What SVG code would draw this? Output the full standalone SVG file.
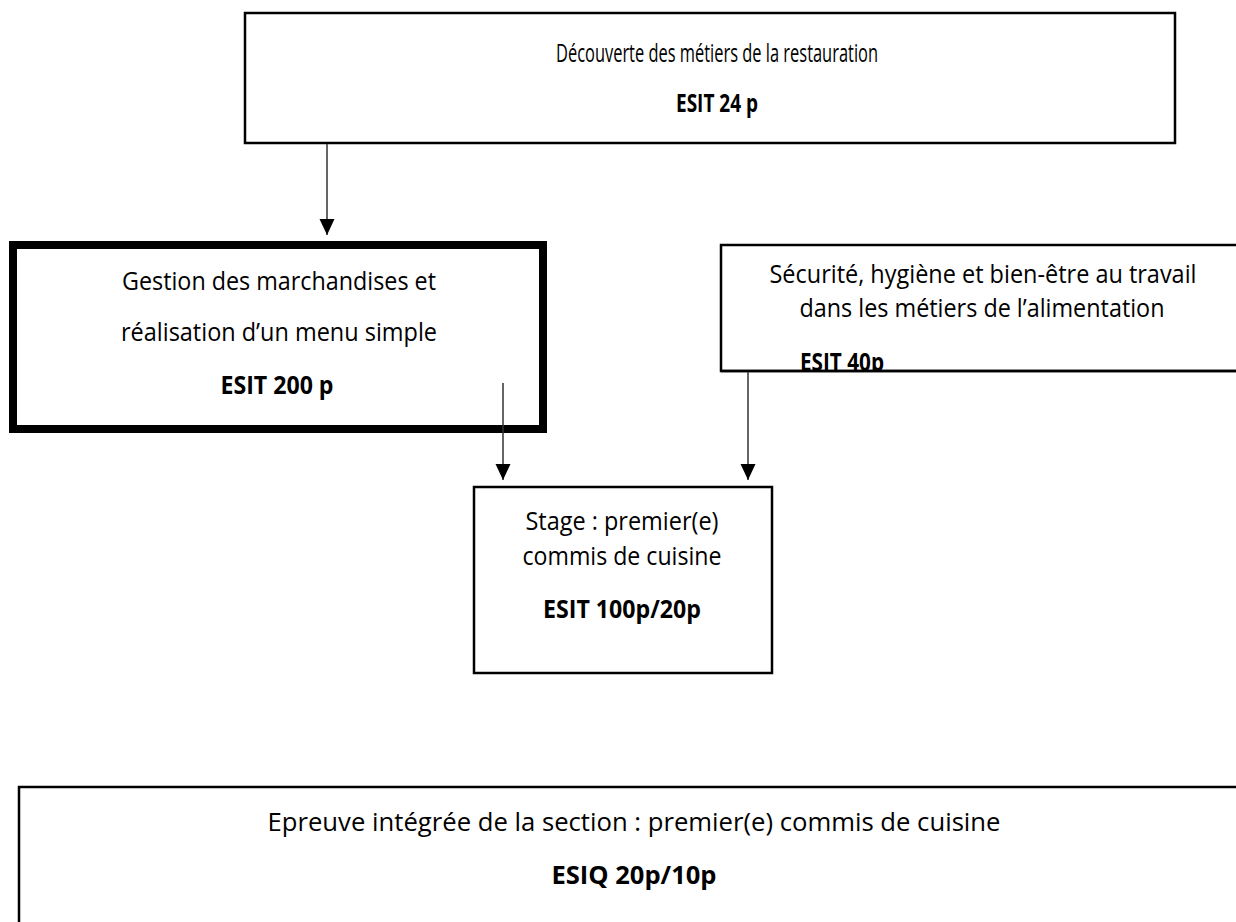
<svg xmlns="http://www.w3.org/2000/svg" width="1236" height="922" viewBox="0 0 1236 922">
<style>
.box{fill:#fff;stroke:#000;stroke-width:2.5}
.thick{fill:#fff;stroke:#000;stroke-width:8}
.t{font-family:"Open Sans","Liberation Sans",sans-serif;font-size:25px;fill:#000;text-anchor:middle}
.b{font-weight:bold}
.conn{stroke:#333;stroke-width:1.5;fill:none}
</style>
<defs>
<marker id="ah" markerUnits="userSpaceOnUse" markerWidth="16" markerHeight="18" refX="16" refY="7.5" orient="auto">
<path d="M0,0 L16,7.5 L0,15 Z" fill="#000"/>
</marker>
<clipPath id="cr"><rect x="721" y="245" width="515" height="125"/></clipPath>
</defs>
<rect width="1236" height="922" fill="#fff"/>
<g id="n1">
<rect class="box" x="245" y="13" width="930" height="130"/>
<text class="t" x="717" y="62" font-size="26" textLength="322" lengthAdjust="spacingAndGlyphs">Découverte des métiers de la restauration</text>
<text class="t b" x="717" y="112" textLength="82" lengthAdjust="spacingAndGlyphs">ESIT 24 p</text>
</g>
<g id="n2">
<rect class="thick" x="13" y="245" width="530" height="184"/>
<text class="t" x="279" y="290" textLength="314" lengthAdjust="spacingAndGlyphs">Gestion des marchandises et</text>
<text class="t" x="279" y="341" textLength="316" lengthAdjust="spacingAndGlyphs">réalisation d’un menu simple</text>
<text class="t b" x="277" y="394" textLength="113" lengthAdjust="spacingAndGlyphs">ESIT 200 p</text>
</g>
<g id="n3">
<rect class="box" x="721" y="245" width="530" height="126"/>
<text class="t" x="983" y="283" textLength="427" lengthAdjust="spacingAndGlyphs">Sécurité, hygiène et bien-être au travail</text>
<text class="t" x="982" y="317" textLength="365" lengthAdjust="spacingAndGlyphs">dans les métiers de l’alimentation</text>
<g clip-path="url(#cr)"><text class="t b" x="842" y="371" textLength="84" lengthAdjust="spacingAndGlyphs">ESIT 40p</text></g>
<line x1="721" y1="371" x2="1236" y2="371" stroke="#000" stroke-width="2.5"/>
</g>
<g id="n4">
<rect class="box" x="474" y="487" width="298" height="186"/>
<text class="t" x="622" y="530" textLength="193" lengthAdjust="spacingAndGlyphs">Stage : premier(e)</text>
<text class="t" x="622" y="565" textLength="199" lengthAdjust="spacingAndGlyphs">commis de cuisine</text>
<text class="t b" x="622" y="618" textLength="158" lengthAdjust="spacingAndGlyphs">ESIT 100p/20p</text>
</g>
<g id="n5">
<rect class="box" x="19" y="787" width="1240" height="160"/>
<text class="t" x="634" y="831" textLength="733" lengthAdjust="spacingAndGlyphs">Epreuve intégrée de la section : premier(e) commis de cuisine</text>
<text class="t b" x="634" y="884" textLength="165" lengthAdjust="spacingAndGlyphs">ESIQ 20p/10p</text>
</g>
<g id="connectors">
<line class="conn" x1="327" y1="144" x2="327" y2="235" marker-end="url(#ah)"/>
<line class="conn" x1="503" y1="383" x2="503" y2="480" marker-end="url(#ah)"/>
<line class="conn" x1="748" y1="372" x2="748" y2="480" marker-end="url(#ah)"/>
</g>
</svg>
